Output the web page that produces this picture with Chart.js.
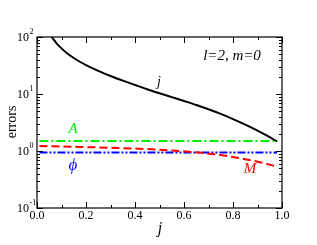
<!DOCTYPE html>
<html>
<head>
<meta charset="utf-8">
<script src="https://cdn.jsdelivr.net/npm/chart.js@4.4.1/dist/chart.umd.min.js"></script>
<style>
  html, body { margin: 0; padding: 0; background: #fff; }
  canvas { display: block; }
</style>
</head>
<body>
<canvas id="chart" width="317" height="245"></canvas>
<script>
// curve of the j error
const jVals = [0.06, 0.08, 0.1, 0.12, 0.15, 0.18, 0.2, 0.25, 0.3, 0.35, 0.4, 0.45, 0.5,
               0.55, 0.6, 0.65, 0.7, 0.75, 0.8, 0.85, 0.9, 0.95, 0.98];
const errJ = [100, 77.6, 63.1, 53.0, 42.8, 35.7, 32.1, 25.5, 20.7, 17.2, 14.4, 12.1, 10.3,
              8.81, 7.54, 6.42, 5.40, 4.47, 3.63, 2.90, 2.28, 1.75, 1.47];

// M error
const jM = [0.01, 0.1, 0.2, 0.33, 0.45, 0.55, 0.67, 0.75, 0.81, 0.87, 0.92, 0.98];
const errM = [1.22, 1.2, 1.17, 1.13, 1.08, 1.02, 0.93, 0.85, 0.77, 0.69, 0.62, 0.53];

// A and phi errors (flat)
const jA = [0.01, 0.98];
const errA = [1.5, 1.5];
const jPhi = [0.01, 0.98];
const errPhi = [0.94, 0.94];

// axis ticks
const xMajor = [0, 0.2, 0.4, 0.6, 0.8, 1.0];
const xMinor = [0.1, 0.3, 0.5, 0.7, 0.9];
const yExp = [-1, 0, 1, 2];

const SERIF = '"Liberation Serif", "DejaVu Serif", serif';

function pts(xs, ys) {
    return xs.map((x, i) => ({ x: x, y: ys[i] }));
}

// Marco, marcas hacia dentro, etiquetas y textos
const framePlugin = {
    id: 'frame',
    afterDraw(chart) {
        const ctx = chart.ctx;
        const a = chart.chartArea;
        const xs = chart.scales.x;
        const ys = chart.scales.y;
        ctx.save();
        ctx.strokeStyle = '#000';
        ctx.lineWidth = 1.2;
        ctx.strokeRect(a.left, a.top, a.right - a.left, a.bottom - a.top);

        ctx.lineWidth = 1;
        ctx.beginPath();
        xMajor.forEach(v => {
            const p = Math.round(xs.getPixelForValue(v)) + 0.5;
            ctx.moveTo(p, a.bottom); ctx.lineTo(p, a.bottom - 6);
            ctx.moveTo(p, a.top); ctx.lineTo(p, a.top + 6);
        });
        xMinor.forEach(v => {
            const p = Math.round(xs.getPixelForValue(v)) + 0.5;
            ctx.moveTo(p, a.bottom); ctx.lineTo(p, a.bottom - 3);
            ctx.moveTo(p, a.top); ctx.lineTo(p, a.top + 3);
        });
        yExp.forEach(e => {
            const p = Math.round(ys.getPixelForValue(Math.pow(10, e))) + 0.5;
            ctx.moveTo(a.left, p); ctx.lineTo(a.left + 6, p);
            ctx.moveTo(a.right, p); ctx.lineTo(a.right - 6, p);
            if (e < 2) {
                for (let k = 2; k <= 9; k++) {
                    const q = Math.round(ys.getPixelForValue(k * Math.pow(10, e))) + 0.5;
                    ctx.moveTo(a.left, q); ctx.lineTo(a.left + 3, q);
                    ctx.moveTo(a.right, q); ctx.lineTo(a.right - 3, q);
                }
            }
        });
        ctx.stroke();

        // tick labels
        ctx.fillStyle = '#000';
        ctx.font = '12px ' + SERIF;
        ctx.textAlign = 'center';
        ctx.textBaseline = 'top';
        xMajor.forEach(v => {
            ctx.fillText(v.toFixed(1), xs.getPixelForValue(v), a.bottom + 2);
        });
        yExp.forEach(e => {
            const p = ys.getPixelForValue(Math.pow(10, e));
            ctx.font = '12px ' + SERIF;
            ctx.textAlign = 'right';
            ctx.textBaseline = 'middle';
            ctx.fillText('10', 29, p + 1);
            ctx.font = '8px ' + SERIF;
            ctx.textAlign = 'left';
            ctx.fillText(e < 0 ? '-' + (-e) : String(e), 29.5, p - 5);
        });

        // axis titles
        ctx.font = '14px ' + SERIF;
        ctx.textAlign = 'center';
        ctx.textBaseline = 'middle';
        ctx.save();
        ctx.translate(12, 122);
        ctx.rotate(-Math.PI / 2);
        ctx.fillText('errors', 0, 0);
        ctx.restore();
        ctx.font = 'italic 16px ' + SERIF;
        ctx.fillText('j', 160, 229);

        // annotations
        ctx.font = 'italic 15px ' + SERIF;
        ctx.fillStyle = '#000';
        ctx.fillText('l=2, m=0', 232, 56);
        ctx.font = 'italic 14px ' + SERIF;
        ctx.fillText('j', 159, 82);
        ctx.font = 'italic 15px ' + SERIF;
        ctx.fillStyle = '#00ee00';
        ctx.fillText('A', 73, 129);
        ctx.fillStyle = '#ff0000';
        ctx.fillText('M', 250, 169);
        ctx.fillStyle = '#0000ff';
        ctx.font = 'italic 17px ' + SERIF;
        ctx.fillText('\u03d5', 73, 166);
        ctx.restore();
    }
};

new Chart(document.getElementById('chart'), {
    type: 'line',
    data: {
        datasets: [
            {
                label: 'j',
                data: pts(jVals, errJ),
                borderColor: '#000000',
                borderWidth: 2,
                cubicInterpolationMode: 'monotone'
            },
            {
                label: 'A',
                data: pts(jA, errA),
                borderColor: '#00ee00',
                borderWidth: 2,
                borderDash: [9, 3, 2, 3]
            },
            {
                label: 'M',
                data: pts(jM, errM),
                borderColor: '#ff0000',
                borderWidth: 2,
                borderDash: [8, 4],
                cubicInterpolationMode: 'monotone'
            },
            {
                label: 'phi',
                data: pts(jPhi, errPhi),
                borderColor: '#0000ff',
                borderWidth: 2,
                borderDash: [8, 2, 2, 2, 2, 2]
            }
        ]
    },
    options: {
        responsive: false,
        animation: false,
        events: [],
        layout: { padding: { left: 37, top: 37, right: 35, bottom: 37 } },
        elements: { point: { radius: 0 } },
        plugins: {
            legend: { display: false },
            tooltip: { enabled: false }
        },
        scales: {
            x: { type: 'linear', min: 0, max: 1, display: false },
            y: { type: 'logarithmic', min: 0.1, max: 100, display: false }
        }
    },
    plugins: [framePlugin]
});
</script>
</body>
</html>
